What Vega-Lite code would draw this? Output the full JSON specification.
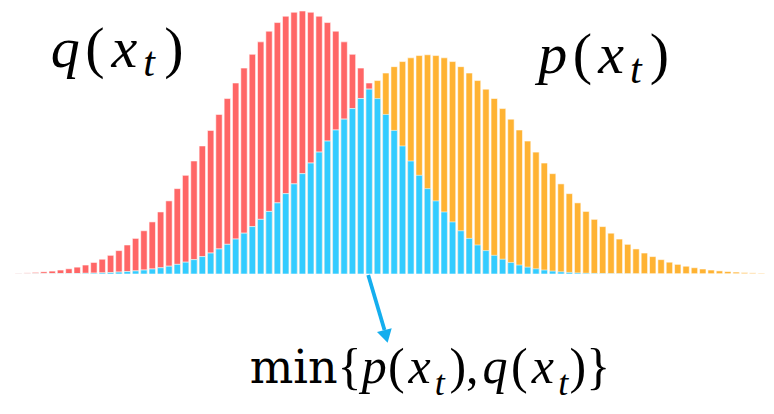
{
  "$schema": "https://vega.github.io/schema/vega-lite/v6.json",
  "width": 774,
  "height": 414,
  "autosize": "none",
  "padding": 0,
  "background": "white",
  "config": {"view": {"stroke": null}},
  "datasets": {
    "bins": [
      {"i": 0, "q": 0.12, "p": 0.01, "m": 0.01},
      {"i": 1, "q": 0.17, "p": 0.01, "m": 0.01},
      {"i": 2, "q": 0.24, "p": 0.02, "m": 0.02},
      {"i": 3, "q": 0.33, "p": 0.02, "m": 0.02},
      {"i": 4, "q": 0.44, "p": 0.03, "m": 0.03},
      {"i": 5, "q": 0.60, "p": 0.04, "m": 0.04},
      {"i": 6, "q": 0.79, "p": 0.05, "m": 0.05},
      {"i": 7, "q": 1.04, "p": 0.07, "m": 0.07},
      {"i": 8, "q": 1.36, "p": 0.10, "m": 0.10},
      {"i": 9, "q": 1.75, "p": 0.13, "m": 0.13},
      {"i": 10, "q": 2.24, "p": 0.17, "m": 0.17},
      {"i": 11, "q": 2.83, "p": 0.22, "m": 0.22},
      {"i": 12, "q": 3.55, "p": 0.29, "m": 0.29},
      {"i": 13, "q": 4.40, "p": 0.37, "m": 0.37},
      {"i": 14, "q": 5.40, "p": 0.47, "m": 0.47},
      {"i": 15, "q": 6.56, "p": 0.60, "m": 0.60},
      {"i": 16, "q": 7.90, "p": 0.76, "m": 0.76},
      {"i": 17, "q": 9.41, "p": 0.95, "m": 0.95},
      {"i": 18, "q": 11.09, "p": 1.18, "m": 1.18},
      {"i": 19, "q": 12.95, "p": 1.46, "m": 1.46},
      {"i": 20, "q": 14.97, "p": 1.79, "m": 1.79},
      {"i": 21, "q": 17.14, "p": 2.18, "m": 2.18},
      {"i": 22, "q": 19.42, "p": 2.64, "m": 2.64},
      {"i": 23, "q": 21.78, "p": 3.18, "m": 3.18},
      {"i": 24, "q": 24.20, "p": 3.80, "m": 3.80},
      {"i": 25, "q": 26.61, "p": 4.50, "m": 4.50},
      {"i": 26, "q": 28.97, "p": 5.30, "m": 5.30},
      {"i": 27, "q": 31.23, "p": 6.19, "m": 6.19},
      {"i": 28, "q": 33.32, "p": 7.19, "m": 7.19},
      {"i": 29, "q": 35.21, "p": 8.29, "m": 8.29},
      {"i": 30, "q": 36.83, "p": 9.49, "m": 9.49},
      {"i": 31, "q": 38.14, "p": 10.79, "m": 10.79},
      {"i": 32, "q": 39.10, "p": 12.19, "m": 12.19},
      {"i": 33, "q": 39.70, "p": 13.67, "m": 13.67},
      {"i": 34, "q": 39.89, "p": 15.22, "m": 15.22},
      {"i": 35, "q": 39.70, "p": 16.83, "m": 16.83},
      {"i": 36, "q": 39.10, "p": 18.49, "m": 18.49},
      {"i": 37, "q": 38.14, "p": 20.16, "m": 20.16},
      {"i": 38, "q": 36.83, "p": 21.84, "m": 21.84},
      {"i": 39, "q": 35.21, "p": 23.49, "m": 23.49},
      {"i": 40, "q": 33.32, "p": 25.09, "m": 25.09},
      {"i": 41, "q": 31.23, "p": 26.62, "m": 26.62},
      {"i": 42, "q": 28.97, "p": 28.04, "m": 28.04},
      {"i": 43, "q": 26.61, "p": 29.34, "m": 26.61},
      {"i": 44, "q": 24.20, "p": 30.48, "m": 24.20},
      {"i": 45, "q": 21.78, "p": 31.45, "m": 21.78},
      {"i": 46, "q": 19.42, "p": 32.22, "m": 19.42},
      {"i": 47, "q": 17.14, "p": 32.79, "m": 17.14},
      {"i": 48, "q": 14.97, "p": 33.13, "m": 14.97},
      {"i": 49, "q": 12.95, "p": 33.25, "m": 12.95},
      {"i": 50, "q": 11.09, "p": 33.13, "m": 11.09},
      {"i": 51, "q": 9.41, "p": 32.79, "m": 9.41},
      {"i": 52, "q": 7.90, "p": 32.22, "m": 7.90},
      {"i": 53, "q": 6.56, "p": 31.45, "m": 6.56},
      {"i": 54, "q": 5.40, "p": 30.48, "m": 5.40},
      {"i": 55, "q": 4.40, "p": 29.34, "m": 4.40},
      {"i": 56, "q": 3.55, "p": 28.04, "m": 3.55},
      {"i": 57, "q": 2.83, "p": 26.62, "m": 2.83},
      {"i": 58, "q": 2.24, "p": 25.09, "m": 2.24},
      {"i": 59, "q": 1.75, "p": 23.49, "m": 1.75},
      {"i": 60, "q": 1.36, "p": 21.84, "m": 1.36},
      {"i": 61, "q": 1.04, "p": 20.16, "m": 1.04},
      {"i": 62, "q": 0.79, "p": 18.49, "m": 0.79},
      {"i": 63, "q": 0.60, "p": 16.83, "m": 0.60},
      {"i": 64, "q": 0.44, "p": 15.22, "m": 0.44},
      {"i": 65, "q": 0.33, "p": 13.67, "m": 0.33},
      {"i": 66, "q": 0.24, "p": 12.19, "m": 0.24},
      {"i": 67, "q": 0.17, "p": 10.79, "m": 0.17},
      {"i": 68, "q": 0.12, "p": 9.49, "m": 0.12},
      {"i": 69, "q": 0.09, "p": 8.29, "m": 0.09},
      {"i": 70, "q": 0.06, "p": 7.19, "m": 0.06},
      {"i": 71, "q": 0.04, "p": 6.19, "m": 0.04},
      {"i": 72, "q": 0.03, "p": 5.30, "m": 0.03},
      {"i": 73, "q": 0.02, "p": 4.50, "m": 0.02},
      {"i": 74, "q": 0.01, "p": 3.80, "m": 0.01},
      {"i": 75, "q": 0.01, "p": 3.18, "m": 0.01},
      {"i": 76, "q": 0, "p": 2.64, "m": 0},
      {"i": 77, "q": 0, "p": 2.18, "m": 0},
      {"i": 78, "q": 0, "p": 1.79, "m": 0},
      {"i": 79, "q": 0, "p": 1.46, "m": 0},
      {"i": 80, "q": 0, "p": 1.18, "m": 0},
      {"i": 81, "q": 0, "p": 0.95, "m": 0},
      {"i": 82, "q": 0, "p": 0.76, "m": 0},
      {"i": 83, "q": 0, "p": 0.60, "m": 0},
      {"i": 84, "q": 0, "p": 0.47, "m": 0},
      {"i": 85, "q": 0, "p": 0.37, "m": 0},
      {"i": 86, "q": 0, "p": 0.29, "m": 0},
      {"i": 87, "q": 0, "p": 0.22, "m": 0},
      {"i": 88, "q": 0, "p": 0.17, "m": 0},
      {"i": 89, "q": 0, "p": 0.13, "m": 0}
    ],
    "arrowLine": [{"i0": 41.89, "v0": -0.15, "i1": 43.84, "v1": -8.49}],
    "arrowHead": [{"i": 44.02, "v": -9.48}],
    "titleItalic": [
      {"t": "q", "i": 5.56, "v": 31.40},
      {"t": "x", "i": 12.66, "v": 31.40},
      {"t": "p", "i": 64.02, "v": 30.49},
      {"t": "x", "i": 71.01, "v": 30.49}
    ],
    "titleUpright": [
      {"t": "(", "i": 9.11, "v": 31.40},
      {"t": ")", "i": 18.58, "v": 31.40},
      {"t": "(", "i": 67.57, "v": 30.49},
      {"t": ")", "i": 76.80, "v": 30.49}
    ],
    "titleSub": [
      {"t": "t", "i": 15.62, "v": 30.03},
      {"t": "t", "i": 73.96, "v": 28.97}
    ],
    "minWord": [
      {"t": "min", "i": 38.22, "v": -16.53}
    ],
    "minUpright": [
      {"t": "{", "i": 39.64, "v": -16.53},
      {"t": "(", "i": 45.27, "v": -16.53},
      {"t": "),", "i": 53.37, "v": -16.53},
      {"t": "(", "i": 60.00, "v": -16.53},
      {"t": ")}", "i": 68.46, "v": -16.53}
    ],
    "minItalic": [
      {"t": "p", "i": 42.60, "v": -16.53},
      {"t": "x", "i": 48.05, "v": -16.53},
      {"t": "q", "i": 57.10, "v": -16.53},
      {"t": "x", "i": 62.84, "v": -16.53}
    ],
    "minSub": [
      {"t": "t", "i": 50.47, "v": -18.35},
      {"t": "t", "i": 65.27, "v": -18.35}
    ]
  },
  "layer": [
    {
      "data": {"name": "bins"},
      "mark": {"type": "bar", "width": 6.4, "color": "#FF6666", "stroke": "#ffffff", "strokeWidth": 1, "strokeOpacity": 0.55},
      "encoding": {
        "x": {"field": "i", "type": "quantitative", "axis": null, "scale": {"domain": [-1.657, 89.94], "range": [0, 774], "nice": false, "zero": false}},
        "y": {"field": "q", "type": "quantitative", "axis": null, "scale": {"domain": [0, 41.56], "range": [274, 0], "nice": false, "zero": false}}
      }
    },
    {
      "data": {"name": "bins"},
      "mark": {"type": "bar", "width": 6.4, "color": "#FFB333", "stroke": "#ffffff", "strokeWidth": 1, "strokeOpacity": 0.55},
      "encoding": {
        "x": {"field": "i", "type": "quantitative"},
        "y": {"field": "p", "type": "quantitative"}
      }
    },
    {
      "data": {"name": "bins"},
      "mark": {"type": "bar", "width": 6.4, "color": "#33CCFF", "stroke": "#ffffff", "strokeWidth": 1, "strokeOpacity": 0.55},
      "encoding": {
        "x": {"field": "i", "type": "quantitative"},
        "y": {"field": "m", "type": "quantitative"}
      }
    },
    {
      "data": {"name": "arrowLine"},
      "mark": {"type": "rule", "color": "#14AEEE", "strokeWidth": 3.8, "strokeCap": "butt"},
      "encoding": {
        "x": {"field": "i0", "type": "quantitative"},
        "y": {"field": "v0", "type": "quantitative"},
        "x2": {"field": "i1"},
        "y2": {"field": "v1"}
      }
    },
    {
      "data": {"name": "arrowHead"},
      "mark": {"type": "point", "shape": "triangle-down", "filled": true, "color": "#14AEEE", "opacity": 1, "size": 230, "angle": 345.5},
      "encoding": {
        "x": {"field": "i", "type": "quantitative"},
        "y": {"field": "v", "type": "quantitative"}
      }
    },
    {
      "data": {"name": "titleItalic"},
      "mark": {"type": "text", "font": "Liberation Serif", "fontStyle": "italic", "fontSize": 58, "align": "center", "baseline": "alphabetic", "color": "#000000"},
      "encoding": {
        "x": {"field": "i", "type": "quantitative"},
        "y": {"field": "v", "type": "quantitative"},
        "text": {"field": "t"}
      }
    },
    {
      "data": {"name": "titleUpright"},
      "mark": {"type": "text", "font": "Liberation Serif", "fontSize": 58, "align": "center", "baseline": "alphabetic", "color": "#000000"},
      "encoding": {
        "x": {"field": "i", "type": "quantitative"},
        "y": {"field": "v", "type": "quantitative"},
        "text": {"field": "t"}
      }
    },
    {
      "data": {"name": "titleSub"},
      "mark": {"type": "text", "font": "Liberation Serif", "fontStyle": "italic", "fontSize": 42, "align": "center", "baseline": "alphabetic", "color": "#000000"},
      "encoding": {
        "x": {"field": "i", "type": "quantitative"},
        "y": {"field": "v", "type": "quantitative"},
        "text": {"field": "t"}
      }
    },
    {
      "data": {"name": "minWord"},
      "mark": {"type": "text", "font": "DejaVu Serif", "fontSize": 46, "align": "right", "baseline": "alphabetic", "color": "#000000"},
      "encoding": {
        "x": {"field": "i", "type": "quantitative"},
        "y": {"field": "v", "type": "quantitative"},
        "text": {"field": "t"}
      }
    },
    {
      "data": {"name": "minUpright"},
      "mark": {"type": "text", "font": "Liberation Serif", "fontSize": 50, "align": "center", "baseline": "alphabetic", "color": "#000000"},
      "encoding": {
        "x": {"field": "i", "type": "quantitative"},
        "y": {"field": "v", "type": "quantitative"},
        "text": {"field": "t"}
      }
    },
    {
      "data": {"name": "minItalic"},
      "mark": {"type": "text", "font": "Liberation Serif", "fontStyle": "italic", "fontSize": 50, "align": "center", "baseline": "alphabetic", "color": "#000000"},
      "encoding": {
        "x": {"field": "i", "type": "quantitative"},
        "y": {"field": "v", "type": "quantitative"},
        "text": {"field": "t"}
      }
    },
    {
      "data": {"name": "minSub"},
      "mark": {"type": "text", "font": "Liberation Serif", "fontStyle": "italic", "fontSize": 36, "align": "center", "baseline": "alphabetic", "color": "#000000"},
      "encoding": {
        "x": {"field": "i", "type": "quantitative"},
        "y": {"field": "v", "type": "quantitative"},
        "text": {"field": "t"}
      }
    }
  ]
}
